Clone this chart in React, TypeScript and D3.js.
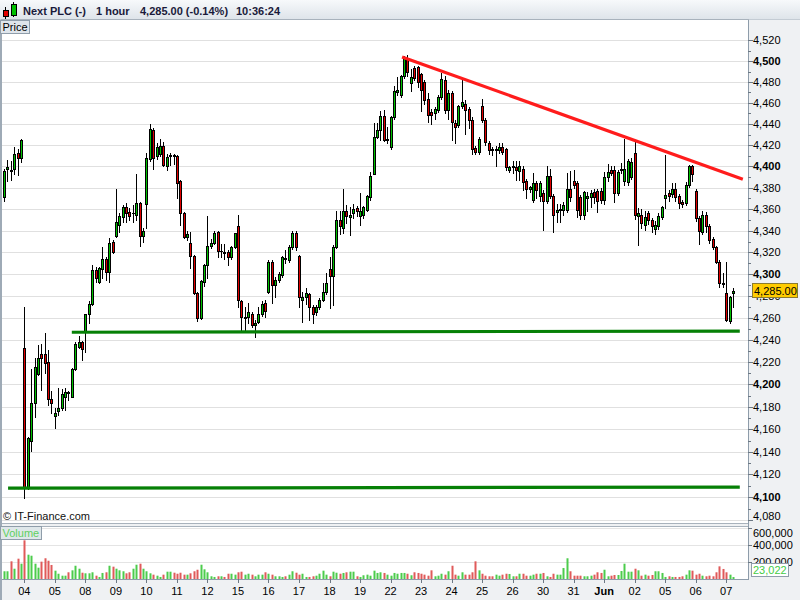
import React from 'react';
import * as d3 from 'd3';

// Next PLC, 1 hour bars, 03 May - 07 Jun
const dayLabels = ['04', '05', '08', '09', '10', '11', '12', '15', '16', '17', '18', '19', '22', '23', '24', '25', '26', '30', '31', 'Jun', '02', '05', '06', '07'];
const dayFirstBar = [6, 15, 24, 33, 42, 51, 60, 69, 78, 87, 96, 105, 114, 123, 132, 141, 150, 159, 168, 177, 186, 195, 204, 213];

const opens = [
  4371, 4398, 4397, 4398, 4413, 4408, 4233, 4109, 4150, 4183,
  4209, 4227, 4227, 4220, 4187, 4172, 4176, 4179, 4189, 4193,
  4189, 4214, 4234, 4238, 4247, 4264, 4273, 4304, 4293, 4305,
  4314, 4302, 4330, 4335, 4345, 4353, 4362, 4357, 4356, 4355,
  4366, 4335, 4365, 4407, 4434, 4410, 4412, 4419, 4400, 4410,
  4411, 4410, 4386, 4356, 4334, 4329, 4317, 4283, 4260, 4293,
  4308, 4326, 4329, 4339, 4321, 4320, 4320, 4316, 4325, 4344,
  4275, 4260, 4261, 4264, 4254, 4256, 4264, 4274, 4284, 4311,
  4290, 4295, 4299, 4315, 4313, 4325, 4338, 4317, 4276, 4279,
  4282, 4270, 4265, 4270, 4276, 4284, 4305, 4298, 4325, 4350,
  4343, 4358, 4353, 4356, 4361, 4354, 4355, 4359, 4371, 4393,
  4428, 4434, 4448, 4425, 4418, 4447, 4470, 4468, 4486, 4502,
  4479, 4493, 4494, 4488, 4480, 4464, 4451, 4450, 4453, 4466,
  4482, 4453, 4469, 4441, 4439, 4457, 4459, 4454, 4444, 4417,
  4414, 4457, 4444, 4422, 4416, 4415, 4415, 4418, 4416, 4397,
  4399, 4399, 4396, 4398, 4386, 4379, 4369, 4384, 4372, 4375,
  4368, 4391, 4372, 4357, 4359, 4359, 4359, 4379, 4386, 4384,
  4371, 4355, 4370, 4371, 4376, 4377, 4377, 4369, 4390, 4397,
  4397, 4375, 4397, 4386, 4385, 4390, 4413, 4354, 4355, 4345,
  4356, 4350, 4342, 4344, 4353, 4370, 4375, 4374, 4379, 4372,
  4367, 4366, 4383, 4400, 4377, 4352, 4339, 4355, 4344, 4332,
  4325, 4311, 4292, 4283, 4257, 4283,
];
const highs = [
  4398, 4406, 4405, 4418, 4416, 4426, 4270, 4153, 4214, 4224,
  4235, 4236, 4246, 4231, 4194, 4179, 4197, 4196, 4197, 4194,
  4215, 4238, 4244, 4239, 4264, 4275, 4308, 4307, 4307, 4325,
  4316, 4333, 4331, 4379, 4356, 4364, 4366, 4361, 4364, 4393,
  4367, 4343, 4413, 4440, 4436, 4422, 4426, 4423, 4412, 4413,
  4412, 4411, 4387, 4357, 4340, 4339, 4318, 4284, 4295, 4309,
  4354, 4332, 4340, 4340, 4328, 4328, 4322, 4326, 4338, 4355,
  4276, 4270, 4274, 4265, 4258, 4270, 4275, 4276, 4313, 4313,
  4297, 4302, 4317, 4322, 4327, 4340, 4340, 4318, 4284, 4287,
  4283, 4272, 4272, 4278, 4292, 4301, 4316, 4327, 4358, 4358,
  4379, 4364, 4362, 4365, 4363, 4375, 4363, 4373, 4395, 4441,
  4441, 4452, 4453, 4437, 4448, 4476, 4485, 4487, 4505, 4506,
  4492, 4495, 4495, 4489, 4482, 4469, 4454, 4456, 4468, 4489,
  4486, 4472, 4471, 4444, 4458, 4482, 4463, 4456, 4447, 4419,
  4428, 4464, 4446, 4424, 4418, 4419, 4422, 4422, 4417, 4400,
  4405, 4405, 4405, 4400, 4388, 4382, 4394, 4386, 4386, 4378,
  4400, 4398, 4374, 4365, 4365, 4367, 4394, 4396, 4397, 4386,
  4373, 4377, 4376, 4378, 4379, 4379, 4380, 4395, 4402, 4400,
  4400, 4397, 4403, 4426, 4407, 4408, 4424, 4361, 4360, 4358,
  4358, 4352, 4349, 4356, 4363, 4411, 4378, 4384, 4384, 4374,
  4369, 4385, 4401, 4401, 4379, 4354, 4358, 4357, 4346, 4334,
  4326, 4313, 4301, 4311, 4280, 4287,
];
const lows = [
  4368, 4386, 4387, 4393, 4392, 4404, 4099, 4107, 4141, 4171,
  4208, 4195, 4210, 4182, 4174, 4161, 4173, 4177, 4177, 4186,
  4189, 4213, 4233, 4222, 4229, 4255, 4272, 4293, 4292, 4296,
  4295, 4293, 4319, 4334, 4339, 4348, 4348, 4350, 4348, 4350,
  4326, 4330, 4343, 4405, 4398, 4407, 4410, 4400, 4397, 4401,
  4402, 4370, 4345, 4333, 4331, 4306, 4282, 4257, 4259, 4289,
  4296, 4324, 4328, 4316, 4316, 4314, 4308, 4314, 4324, 4270,
  4247, 4247, 4255, 4252, 4243, 4255, 4262, 4261, 4283, 4274,
  4279, 4293, 4297, 4310, 4311, 4323, 4322, 4270, 4256, 4273,
  4258, 4255, 4263, 4268, 4275, 4282, 4269, 4272, 4324, 4337,
  4338, 4347, 4336, 4352, 4354, 4345, 4352, 4358, 4369, 4393,
  4427, 4425, 4424, 4422, 4416, 4445, 4468, 4466, 4484, 4486,
  4471, 4482, 4475, 4452, 4459, 4442, 4440, 4445, 4451, 4464,
  4450, 4445, 4425, 4422, 4437, 4455, 4431, 4436, 4412, 4412,
  4412, 4442, 4420, 4412, 4411, 4400, 4413, 4412, 4397, 4395,
  4394, 4387, 4387, 4378, 4370, 4376, 4367, 4370, 4368, 4341,
  4366, 4370, 4339, 4348, 4348, 4355, 4357, 4368, 4380, 4353,
  4351, 4351, 4358, 4362, 4366, 4357, 4366, 4365, 4386, 4392,
  4367, 4373, 4394, 4383, 4383, 4388, 4351, 4327, 4343, 4341,
  4346, 4339, 4337, 4342, 4351, 4361, 4368, 4371, 4368, 4361,
  4362, 4364, 4381, 4386, 4349, 4328, 4337, 4339, 4329, 4323,
  4310, 4288, 4288, 4257, 4255, 4270,
];
const closes = [
  4396, 4399, 4396, 4412, 4408, 4425, 4109, 4152, 4183, 4216,
  4224, 4224, 4219, 4187, 4183, 4174, 4179, 4191, 4193, 4192,
  4214, 4236, 4238, 4232, 4264, 4273, 4304, 4296, 4306, 4314,
  4302, 4329, 4320, 4348, 4354, 4362, 4356, 4354, 4356, 4366,
  4335, 4340, 4408, 4435, 4408, 4418, 4419, 4401, 4409, 4411,
  4410, 4384, 4356, 4334, 4337, 4317, 4283, 4260, 4294, 4308,
  4326, 4329, 4338, 4321, 4321, 4319, 4316, 4325, 4338, 4276,
  4261, 4261, 4265, 4254, 4255, 4264, 4273, 4266, 4311, 4290,
  4295, 4300, 4316, 4314, 4325, 4338, 4325, 4279, 4279, 4283,
  4270, 4264, 4270, 4276, 4284, 4292, 4298, 4325, 4350, 4344,
  4358, 4354, 4355, 4360, 4358, 4358, 4362, 4372, 4391, 4428,
  4434, 4448, 4425, 4426, 4447, 4471, 4472, 4486, 4503, 4490,
  4485, 4484, 4480, 4472, 4463, 4449, 4449, 4454, 4466, 4483,
  4453, 4469, 4442, 4437, 4457, 4461, 4453, 4444, 4416, 4414,
  4426, 4444, 4423, 4415, 4415, 4416, 4418, 4414, 4399, 4399,
  4400, 4397, 4400, 4385, 4379, 4381, 4384, 4378, 4384, 4368,
  4391, 4372, 4355, 4359, 4360, 4364, 4379, 4371, 4383, 4359,
  4355, 4376, 4372, 4375, 4371, 4368, 4369, 4390, 4395, 4394,
  4375, 4395, 4398, 4398, 4405, 4404, 4355, 4356, 4347, 4353,
  4350, 4344, 4345, 4354, 4362, 4373, 4372, 4379, 4371, 4366,
  4365, 4383, 4400, 4393, 4352, 4340, 4355, 4344, 4331, 4325,
  4311, 4292, 4291, 4258, 4279, 4285,
];
const volumes = [
  91000, 91000, 208000, 121000, 239000, 180000, 455000, 286000, 274000, 180000,
  133000, 204000, 244000, 215000, 165000, 98000, 62000, 39000, 39000, 79000,
  102000, 156000, 121000, 74000, 67000, 67000, 79000, 39000, 24000, 71000,
  79000, 156000, 145000, 121000, 102000, 91000, 67000, 79000, 121000, 168000,
  180000, 121000, 91000, 67000, 51000, 39000, 24000, 51000, 86000, 86000,
  74000, 62000, 74000, 51000, 51000, 67000, 91000, 109000, 168000, 114000,
  79000, 32000, 24000, 32000, 32000, 24000, 62000, 62000, 51000, 79000,
  86000, 51000, 62000, 51000, 32000, 51000, 51000, 79000, 62000, 51000,
  32000, 32000, 24000, 32000, 51000, 91000, 74000, 51000, 62000, 24000,
  24000, 32000, 39000, 62000, 98000, 51000, 32000, 86000, 74000, 62000,
  71000, 79000, 86000, 86000, 32000, 24000, 44000, 51000, 39000, 98000,
  71000, 79000, 71000, 51000, 39000, 71000, 62000, 71000, 71000, 62000,
  44000, 79000, 71000, 62000, 51000, 39000, 102000, 32000, 39000, 62000,
  51000, 91000, 156000, 51000, 39000, 79000, 51000, 51000, 79000, 208000,
  102000, 62000, 39000, 32000, 32000, 51000, 39000, 51000, 62000, 59000,
  32000, 32000, 62000, 62000, 39000, 39000, 51000, 62000, 62000, 71000,
  32000, 24000, 62000, 51000, 51000, 129000, 244000, 91000, 39000, 39000,
  39000, 32000, 32000, 39000, 51000, 79000, 71000, 109000, 32000, 39000,
  47000, 47000, 94000, 180000, 86000, 86000, 121000, 102000, 39000, 51000,
  39000, 47000, 91000, 91000, 71000, 24000, 32000, 24000, 24000, 24000,
  32000, 51000, 102000, 98000, 51000, 62000, 39000, 32000, 39000, 32000,
  79000, 149000, 118000, 79000, 51000, 23022,
];

// drawn lines: [bar index, price]
const resistance = [[117.4, 4504], [217.9, 4388]];
const supportHigh = [[20, 4247], [217, 4248]];
const supportLow = [[1.2, 4108], [217, 4109]];

const volumeTicks = [200000, 400000, 600000];
const lastPrice = 4285;

const FONT = 'Liberation Sans, Arial, sans-serif';
const GREEN = '#00c000';
const RED = '#e00000';

export default function App() {
  const plotL = 2;
  const plotR = 748;
  const priceTop = 20;
  const priceBottom = 523;
  const volTop = 526;
  const volBottom = 579;

  const x = d3.scaleLinear().domain([0, 215]).range([4, 733]);
  const y = d3.scaleLog().domain([4100, 4440]).range([497.3, 124]);
  const yv = d3.scaleLinear().domain([0, 600000]).range([volBottom, 528]);
  const fmt = d3.format(',');

  const majorTicks = d3.range(4080, 4521, 20);
  const minorTicks = d3.range(4090, 4521, 20);
  const line = d3.line<number[]>().x(d => x(d[0])).y(d => y(d[1]));

  const px = (i: number) => Math.round(x(i));

  return (
    <svg width={800} height={600} style={{ position: 'absolute', left: 0, top: 0, fontFamily: FONT }}>
      <defs>
        <linearGradient id="hdr" x1="0" y1="0" x2="0" y2="1">
          <stop offset="0" stopColor="#f7f9fb" />
          <stop offset="1" stopColor="#dde3e9" />
        </linearGradient>
        <clipPath id="priceClip">
          <rect x={plotL} y={priceTop} width={plotR - plotL} height={priceBottom - priceTop} />
        </clipPath>
        <clipPath id="volClip">
          <rect x={plotL} y={volTop} width={plotR - plotL} height={volBottom - volTop} />
        </clipPath>
      </defs>

      {/* backgrounds */}
      <rect x={0} y={0} width={800} height={600} fill="#eff1f3" />
      <rect x={plotL} y={priceTop} width={plotR - plotL} height={priceBottom - priceTop} fill="#fff" />
      <rect x={plotL} y={volTop} width={plotR - plotL} height={volBottom - volTop} fill="#fff" />

      {/* header */}
      <rect x={0} y={0} width={800} height={20} fill="url(#hdr)" />
      <line x1={0} x2={800} y1={19.5} y2={19.5} stroke="#c4ccd4" />
      <line x1={5.5} x2={5.5} y1={7} y2={19} stroke="#000" />
      <rect x={3.5} y={10.5} width={5} height={6} fill={RED} stroke="#000" />
      <line x1={13.5} x2={13.5} y1={2} y2={17} stroke="#000" />
      <rect x={11.5} y={4.5} width={5} height={11} fill={GREEN} stroke="#000" />
      <g fontSize={11} fontWeight="bold" fill="#1a1a3a">
        <text x={23} y={15}>Next PLC (-)</text>
        <text x={96} y={15}>1 hour</text>
        <text x={140} y={15}>4,285.00 (-0.14%)</text>
        <text x={236} y={15}>10:36:24</text>
      </g>

      {/* price grid */}
      {majorTicks.map(t => (
        <line key={t} x1={plotL} x2={plotR} y1={Math.round(y(t)) + 0.5} y2={Math.round(y(t)) + 0.5} stroke="#e0e0e0" />
      ))}

      {/* candles */}
      <g clipPath="url(#priceClip)">
        {opens.map((o, i) => {
          const c = closes[i];
          const cx = px(i);
          const top = Math.round(y(Math.max(o, c)));
          const bot = Math.round(y(Math.min(o, c)));
          return (
            <g key={i}>
              <line x1={cx + 0.5} x2={cx + 0.5} y1={Math.round(y(highs[i]))} y2={Math.round(y(lows[i])) + 1} stroke="#000" />
              {bot - top < 1 ? (
                <line x1={cx - 1} x2={cx + 2} y1={top + 0.5} y2={top + 0.5} stroke="#000" />
              ) : (
                <rect x={cx - 0.5} y={top + 0.5} width={2} height={bot - top} fill={c >= o ? GREEN : RED} stroke="#000" />
              )}
            </g>
          );
        })}
        <path d={line(resistance) || ''} stroke="#ff1c1c" strokeWidth={3.2} fill="none" />
        <path d={line(supportHigh) || ''} stroke="#068006" strokeWidth={3.2} fill="none" />
        <path d={line(supportLow) || ''} stroke="#068006" strokeWidth={3.2} fill="none" />
      </g>

      <text x={3} y={520} fontSize={11} fill="#111">© IT-Finance.com</text>

      {/* panel frames */}
      <rect x={plotL - 0.5} y={priceTop - 0.5} width={plotR - plotL + 1} height={priceBottom - priceTop + 1} fill="none" stroke="#a8b2bc" />
      <rect x={plotL - 0.5} y={volTop + 0.5} width={plotR - plotL + 1} height={volBottom - volTop} fill="none" stroke="#a8b2bc" />
      <line x1={1} x2={1} y1={20} y2={600} stroke="#9eaab6" strokeWidth={2} />
      <line x1={plotR + 0.5} x2={plotR + 0.5} y1={20} y2={580} stroke="#8e9caa" />

      {/* price label box */}
      <rect x={0.5} y={20.5} width={29} height={13} fill="#dfe5eb" stroke="#8f9daa" />
      <text x={2.5} y={31} fontSize={11} fill="#000">Price</text>

      {/* price axis */}
      {majorTicks.map(t => (
        <g key={t}>
          <line x1={plotR} x2={plotR + 5} y1={Math.round(y(t)) + 0.5} y2={Math.round(y(t)) + 0.5} stroke="#6c7884" />
          <text x={753} y={Math.min(y(t) + 4, 520)} fontSize={11} fontWeight={t % 100 === 0 ? 'bold' : 'normal'} fill="#000">
            {fmt(t)}
          </text>
        </g>
      ))}
      {minorTicks.map(t => (
        <line key={t} x1={plotR} x2={plotR + 3} y1={Math.round(y(t)) + 0.5} y2={Math.round(y(t)) + 0.5} stroke="#6c7884" />
      ))}
      <rect x={752.5} y={Math.round(y(lastPrice)) - 7.5} width={45} height={14} fill="#ffcc00" stroke="#8a7a30" />
      <text x={754} y={y(lastPrice) + 4} fontSize={11} fill="#000">{d3.format(',.2f')(lastPrice)}</text>

      {/* volume */}
      {volumeTicks.map(t => (
        <line key={t} x1={plotL} x2={plotR} y1={Math.round(yv(t)) + 0.5} y2={Math.round(yv(t)) + 0.5} stroke="#e4e4e4" />
      ))}
      <g clipPath="url(#volClip)">
        {volumes.map((v, i) => (
          <rect key={i} x={px(i) - 0.5} y={yv(v)} width={2} height={volBottom - yv(v)} fill={closes[i] >= opens[i] ? '#4ccc4c' : '#e05a5a'} />
        ))}
      </g>
      <rect x={0.5} y={526.5} width={41} height={13} fill="#dfe7ea" stroke="#8f9daa" />
      <text x={2.5} y={537} fontSize={11} fill="#5fd05f">Volume</text>
      {volumeTicks.map(t => (
        <g key={t}>
          <line x1={plotR} x2={plotR + 4} y1={Math.round(yv(t)) + 0.5} y2={Math.round(yv(t)) + 0.5} stroke="#6c7884" />
          <text x={753} y={Math.max(yv(t) + 4, 537)} fontSize={11} fill="#000">{fmt(t)}</text>
        </g>
      ))}
      <rect x={751.5} y={563.5} width={37} height={13} fill="#fff" stroke="#8f9daa" />
      <text x={753} y={574} fontSize={11} fill="#44cc44">{fmt(volumes[volumes.length - 1])}</text>

      {/* date axis */}
      <line x1={plotL} x2={plotR} y1={volBottom + 0.5} y2={volBottom + 0.5} stroke="#8e9caa" />
      {dayFirstBar.map((b, k) => (
        <g key={k}>
          <line x1={px(b) + 0.5} x2={px(b) + 0.5} y1={volBottom} y2={volBottom + 4} stroke="#6c7884" />
          <text x={x(b)} y={595} fontSize={11} textAnchor="middle" fontWeight={dayLabels[k] === 'Jun' ? 'bold' : 'normal'} fill="#000">
            {dayLabels[k]}
          </text>
        </g>
      ))}
    </svg>
  );
}
